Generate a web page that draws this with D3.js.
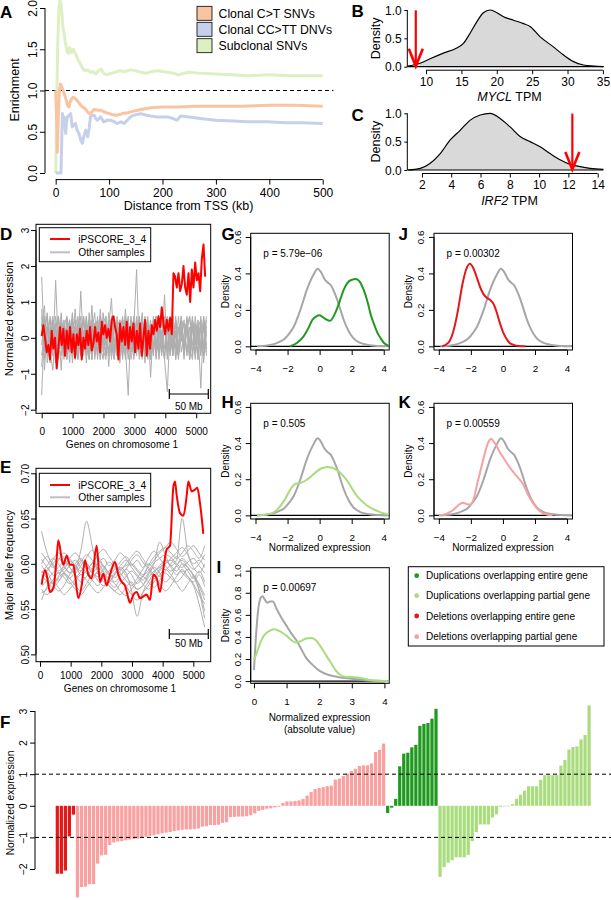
<!DOCTYPE html>
<html><head><meta charset="utf-8">
<script src="https://cdn.jsdelivr.net/npm/d3@7"></script>
<style>body{margin:0;background:#fff}svg{display:block}text{font-family:'Liberation Sans',Arial,Helvetica,sans-serif}</style>
</head><body><svg id="c" width="611" height="900"></svg>
<script>
// ---------- DATA ----------
// Panel A
const aLegend = ["Clonal C>T SNVs","Clonal CC>TT DNVs","Subclonal SNVs"];
const aXTicks = [0,100,200,300,400,500];
const aYTicks = [0,0.5,1,1.5,2];
const aOrangeKb = [0,2,3,5,7,9,11,14,17,20,22,25,27,30,33,37,40,45,50,55,60,63,68,72,80,85,95,105,115,125,135,146,160,178,200,230,260,300,350,400,450,500];
const aOrangeVal = [1.0,0.6,0.25,0.7,1.0,1.08,1.05,1.0,0.94,0.88,0.82,0.8,0.86,0.9,0.92,0.9,0.88,0.84,0.8,0.78,0.74,0.72,0.74,0.77,0.76,0.76,0.73,0.71,0.7,0.72,0.73,0.75,0.77,0.79,0.8,0.8,0.81,0.81,0.81,0.82,0.82,0.81];
const aBlueKb = [0,10,11,12.5,14,15.6,17,18.7,20,21.8,25,28,31,34,37,40,43.6,47,50,53,56,58,60,63,65,68,72,75,78,84,90,97,103,110,115,122,128,134,140,146,159,170,178,190,209,220,227,234,250,271,300,333,360,396,430,460,500];
const aBlueVal = [0,0,0.3,0.72,0.65,0.68,0.6,0.48,0.6,0.68,0.7,0.72,0.56,0.58,0.6,0.52,0.48,0.4,0.36,0.45,0.52,0.48,0.44,0.55,0.68,0.7,0.7,0.66,0.64,0.68,0.62,0.64,0.64,0.62,0.6,0.62,0.6,0.64,0.68,0.7,0.72,0.7,0.69,0.68,0.68,0.66,0.64,0.69,0.68,0.66,0.64,0.63,0.62,0.62,0.61,0.61,0.6];
const aGreenKb = [0,2,4,6,8,10,12,14,16,18,20,22,24,26,28,30,33,36,39,42,45,48,51,55,60,65,70,75,80,85,90,95,100,110,120,130,140,150,160,170,180,190,200,210,220,230,240,250,270,300,330,360,400,440,470,500];
const aGreenVal = [0,0.9,1.6,2.0,2.1,2.05,1.9,1.75,1.68,1.58,1.52,1.46,1.45,1.52,1.5,1.46,1.5,1.46,1.42,1.37,1.34,1.3,1.26,1.24,1.25,1.22,1.23,1.2,1.24,1.26,1.21,1.19,1.2,1.22,1.24,1.23,1.25,1.24,1.22,1.21,1.23,1.24,1.23,1.22,1.21,1.19,1.21,1.22,1.21,1.2,1.19,1.18,1.19,1.18,1.18,1.18];

// Panel B (MYCL) and C (IRF2)
const bTpm = [7.36,9.15,10.57,12.45,14.34,15.28,16.23,17.17,18.1,19.06,19.76,20.94,22.36,23.77,24.7,26.1,28.0,29.4,30.85,32.26,33.7,35.1];
const bDens = [0.01,0.06,0.14,0.24,0.33,0.41,0.59,0.79,0.95,1.0,0.97,0.88,0.82,0.76,0.71,0.53,0.35,0.21,0.09,0.03,0.01,0.0];
const bXTicks = [10,15,20,25,30,35];
const bArrow = 8.55;
const cTpm = [1.02,1.89,2.57,3.25,3.93,4.61,5.3,5.98,6.66,7.34,8.02,8.7,9.39,10.07,10.75,11.43,12.11,12.8,13.48,14.39];
const cDens = [0.0,0.03,0.12,0.29,0.53,0.7,0.88,0.97,1.0,0.91,0.76,0.59,0.5,0.41,0.29,0.18,0.1,0.06,0.03,0.01];
const cXTicks = [2,4,6,8,10,12,14];
const cArrow = 12.27;
const densTicks = [0,0.5,1];

// Panel D
const dXTicks = [0,1000,2000,3000,4000,5000];
const dYTicks = [-2,-1,0,1,2,3];
const dRed = [0.05,0.35,0.0,-0.4,-0.2,-0.6,0.2,-0.3,0.0,-0.85,-0.3,0.3,-0.2,0.25,-0.5,0.2,-0.3,0.3,-0.4,0.1,-0.55,0.1,-0.2,0.25,-0.6,0.0,-0.3,0.2,-0.2,0.3,-0.35,-0.15,0.3,-0.1,0.15,-0.4,0.45,0.1,0.35,0.0,0.25,-0.1,0.5,0.6,0.3,0.1,-0.6,0.4,-0.1,0.3,-0.2,0.45,-0.3,0.3,-0.1,0.4,-0.4,0.2,-0.3,0.4,-0.5,0.0,0.5,-0.5,0.2,-0.3,0.35,0.1,0.5,0.2,0.6,0.3,0.85,0.4,0.1,0.5,0.2,0.55,0.1,1.8,1.7,1.4,1.8,1.3,1.5,2.0,1.4,1.2,1.8,1.0,1.9,1.4,2.1,1.6,1.8,1.3,2.2,2.6,1.7];
const dGrey1 = [1.7,-0.3,0.5,-0.6,0.4,0.2,-0.5,0.6,-0.2,0.3,-0.7,0.5,0.1,-0.4,1.3,-0.3,0.4,-0.6,0.2,0.7,-0.5,0.3,-0.2,0.6,-0.8,0.4,0.0,-0.5,0.5,-0.3,0.8,-0.4,0.2,-0.6,0.5,-0.1,0.3,-0.7,0.4,0.1,-0.5,0.6,-0.3,0.2,-0.6,-1.5,0.4,-0.2,0.5,-0.4,0.3,-0.6,0.6,-0.2,0.4,-0.5,0.2,-1.4,0.5,0.3];
const dGrey2 = [-1.6,0.4,-0.2,0.6,-0.5,1.6,-0.3,0.2,-0.6,0.5,-0.1,0.7,-0.4,0.3,-0.2,0.5,-0.7,0.4,0.1,-0.3,0.6,-0.5,0.2,-0.4,0.3,1.1,-0.6,0.4,-0.2,0.5,-0.5,0.3,-0.1,0.6,-0.4,0.2,-0.3,0.5,-0.6,0.4,-0.2,0.3,-0.5,0.7,-0.3,0.2,-0.4,0.6,-0.6,0.3,-0.1,0.5,-0.4,0.3,-0.5,0.6,-0.2,0.4,-0.3,0.1];
const dGrey3 = [0.3,0.9,-0.7,0.2,0.6,-0.4,0.3,-0.9,0.4,-0.3,0.5,-0.2,0.8,-0.5,0.2,-0.4,0.6,-0.3,0.9,-0.6,0.1,-0.5,0.7,-0.2,0.4,-0.6,0.3,-0.4,0.2,0.6,-0.3,-1.6,0.5,-0.2,0.4,-0.6,0.7,-0.3,0.1,-0.4,0.5,-0.5,0.4,-0.1,0.6,-0.3,0.2,-0.5,0.4,-0.2,0.6,-0.4,0.3,-0.6,0.5,-0.1,0.4,-0.5,0.6,-0.3];
const dGrey4 = [-0.5,0.2,0.7,-0.4,-0.9,0.3,0.6,-0.3,0.2,-0.6,0.4,-0.5,0.3,0.6,-0.4,0.2,-0.3,0.5,-0.6,0.4,-0.2,0.8,-0.4,0.2,-0.5,0.6,-0.3,0.4,-0.7,0.3,-0.2,0.5,-0.4,0.3,1.9,-0.5,0.2,-0.4,0.6,-1.1,0.3,-0.2,0.5,-0.4,1.2,-0.6,0.3,-0.2,0.5,-0.5,0.4,-0.3,0.2,0.6,-0.4,0.3,-0.6,0.5,-0.2,0.6];
const dGrey5 = [0.8,-0.9,0.3,-0.2,0.5,-0.7,0.2,0.4,-0.5,0.3,-0.2,0.6,-0.6,0.4,-0.3,0.2,-0.5,0.7,-0.2,0.4,-0.6,0.3,0.1,-0.5,0.5,-0.3,0.6,-0.2,0.3,-0.5,0.4,-0.3,0.6,-0.5,0.2,-0.4,0.5,-0.2,0.3,-0.6,0.4,-0.3,0.2,-0.5,0.3,-0.2,0.6,-0.4,0.2,-0.5,0.3,-0.3,0.5,-0.2,0.3,-0.6,0.4,-0.2,0.3,-0.4];
const dGrey6 = [0.1,0.5,-0.4,0.3,-0.1,0.4,-0.6,0.2,0.5,-0.4,0.3,-0.5,0.4,-0.2,0.6,-0.4,0.2,-0.3,0.4,-0.5,0.3,-0.6,0.5,-0.2,0.3,-0.4,0.6,-0.5,0.2,-0.3,0.5,-0.2,0.4,-0.3,0.6,-0.2,0.3,-0.5,0.4,-0.6,0.3,-0.2,0.4,-0.3,0.5,-0.4,0.3,-0.5,0.6,-0.3,0.2,-0.4,0.5,-0.6,0.3,-0.2,0.5,-0.3,0.4,-0.5];
const dGrey7 = [0.4,-0.6,0.2,0.5,-0.3,0.6,-0.2,-0.5,0.3,0.6,-0.4,0.2,-0.6,0.5,0.1,-0.5,0.4,0.2,-0.6,0.3,0.5,-0.2,-0.6,0.4,0.2,-0.5,0.6,-0.1,-0.4,0.5,0.2,-0.6,0.3,0.5,-0.4,0.1,0.6,-0.3,-0.5,0.4,0.2,-0.6,0.5,-0.2,0.3,0.6,-0.5,0.2,-0.3,0.6,-0.4,0.1,0.5,-0.3,-0.6,0.4,0.2,-0.4,0.6,-0.2];
const dGrey8 = [-0.2,0.6,-0.5,0.1,0.4,-0.6,0.5,0.0,-0.4,0.6,-0.2,0.3,0.5,-0.6,0.2,0.6,-0.4,0.0,0.5,-0.5,0.3,0.6,-0.3,-0.6,0.5,0.2,-0.4,0.6,-0.5,0.1,-0.6,0.5,-0.2,0.3,-0.5,0.6,-0.4,0.2,0.5,-0.6,0.3,0.6,-0.4,0.0,-0.6,0.5,-0.2,0.4,-0.6,0.2,0.5,-0.5,0.3,0.6,-0.2,0.4,-0.6,0.3,-0.4,0.5];
const dGrey9 = [0.6,-0.4,0.3,-0.7,0.5,0.0,-0.4,0.7,-0.5,0.2,0.5,-0.7,0.3,0.0,-0.5,0.6,-0.2,-0.6,0.5,0.2,-0.4,0.6,0.0,-0.5,0.7,-0.2,-0.6,0.3,0.5,-0.4,0.2,0.6,-0.6,0.0,0.5,-0.3,-0.5,0.6,0.1,-0.4,0.6,-0.5,0.0,0.5,-0.6,0.4,0.6,-0.4,0.1,-0.6,0.5,0.3,-0.5,0.0,0.6,-0.4,0.3,0.5,-0.7,0.2];
const dGrey10 = [-0.8,0.3,0.6,-0.3,0.2,-0.5,0.6,-0.1,0.4,-0.6,0.1,0.5,-0.3,-0.6,0.4,0.0,0.6,-0.5,0.3,-0.2,0.5,-0.6,0.4,0.6,-0.4,0.1,-0.5,0.5,0.0,-0.6,0.6,-0.3,0.4,-0.5,0.0,0.6,-0.6,0.3,-0.1,0.5,-0.4,0.6,-0.6,0.2,0.4,-0.5,0.0,0.6,-0.3,-0.5,0.6,-0.2,0.4,-0.6,0.5,0.0,-0.4,0.6,-0.5,0.3];

// Panel E
const eYTicks = [0.50,0.55,0.60,0.65,0.70];
const eRedGene = [54,163,217,326,435,544,598,707,761,870,978,1087,1142,1250,1359,1468,1576,1685,1848,1957,2066,2174,2283,2446,2555,2664,2772,2881,2935,3044,3153,3262,3370,3479,3588,3696,3805,3914,4022,4131,4240,4349,4403,4457,4566,4675,4783,4838,4946,5055,5131,5218,5327];
const eRedVal = [0.577,0.593,0.588,0.569,0.573,0.606,0.626,0.606,0.599,0.609,0.599,0.599,0.588,0.562,0.576,0.604,0.588,0.584,0.620,0.580,0.589,0.576,0.588,0.602,0.588,0.580,0.576,0.562,0.557,0.566,0.569,0.562,0.564,0.566,0.560,0.588,0.584,0.569,0.594,0.616,0.620,0.685,0.691,0.676,0.656,0.653,0.675,0.691,0.680,0.682,0.684,0.667,0.633];
const eGrey1 = [0.636,0.612,0.598,0.590,0.594,0.603,0.598,0.588,0.592,0.601,0.607,0.598,0.590,0.585,0.592,0.598,0.600,0.594,0.588,0.592,0.601,0.606,0.610,0.607,0.600,0.596,0.602,0.606,0.598,0.590];
const eGrey2 = [0.560,0.575,0.582,0.590,0.585,0.578,0.583,0.592,0.598,0.590,0.582,0.576,0.580,0.588,0.594,0.587,0.578,0.572,0.576,0.585,0.592,0.596,0.600,0.604,0.598,0.590,0.584,0.576,0.556,0.530];
const eGrey3 = [0.598,0.592,0.604,0.612,0.606,0.596,0.590,0.598,0.607,0.615,0.606,0.596,0.588,0.594,0.602,0.608,0.600,0.592,0.586,0.598,0.608,0.614,0.618,0.612,0.606,0.612,0.620,0.614,0.606,0.620];
const eGrey4 = [0.582,0.590,0.578,0.570,0.576,0.588,0.594,0.615,0.647,0.620,0.590,0.580,0.576,0.570,0.566,0.574,0.580,0.572,0.576,0.588,0.596,0.590,0.580,0.586,0.598,0.604,0.596,0.588,0.578,0.565];
const eGrey5 = [0.590,0.598,0.606,0.600,0.590,0.584,0.592,0.602,0.610,0.604,0.594,0.586,0.580,0.588,0.596,0.590,0.570,0.542,0.568,0.580,0.590,0.598,0.604,0.598,0.592,0.600,0.596,0.586,0.570,0.540];
const eGrey6 = [0.575,0.582,0.590,0.596,0.602,0.596,0.588,0.580,0.586,0.594,0.600,0.592,0.584,0.590,0.598,0.604,0.596,0.588,0.582,0.590,0.600,0.624,0.610,0.598,0.604,0.650,0.612,0.596,0.590,0.600];
const eGrey7 = [0.605,0.596,0.588,0.582,0.590,0.598,0.604,0.596,0.590,0.582,0.576,0.584,0.592,0.598,0.590,0.582,0.576,0.584,0.594,0.600,0.594,0.586,0.592,0.600,0.608,0.600,0.592,0.584,0.592,0.580];
const eGrey8 = [0.588,0.580,0.574,0.580,0.588,0.580,0.572,0.566,0.574,0.582,0.590,0.584,0.576,0.570,0.578,0.586,0.592,0.586,0.578,0.572,0.580,0.588,0.594,0.588,0.580,0.586,0.594,0.588,0.576,0.560];
const eGrey9 = [0.600,0.608,0.600,0.592,0.598,0.606,0.612,0.604,0.596,0.600,0.610,0.616,0.608,0.600,0.594,0.600,0.608,0.614,0.606,0.598,0.604,0.612,0.618,0.624,0.616,0.608,0.614,0.620,0.612,0.604];
const eGrey10 = [0.568,0.572,0.580,0.574,0.566,0.572,0.580,0.588,0.582,0.574,0.568,0.574,0.582,0.578,0.570,0.565,0.572,0.580,0.586,0.580,0.574,0.582,0.590,0.584,0.578,0.570,0.578,0.586,0.572,0.548];
const eGrey11 = [0.585,0.594,0.600,0.606,0.598,0.590,0.596,0.604,0.598,0.590,0.586,0.594,0.602,0.596,0.588,0.594,0.604,0.610,0.602,0.594,0.586,0.592,0.600,0.606,0.612,0.618,0.610,0.600,0.604,0.596];
const eGrey12 = [0.572,0.566,0.574,0.584,0.590,0.584,0.576,0.570,0.578,0.588,0.596,0.590,0.580,0.574,0.582,0.576,0.566,0.560,0.568,0.576,0.584,0.578,0.570,0.576,0.586,0.592,0.586,0.578,0.566,0.556];
const eGrey13 = [0.612,0.604,0.596,0.604,0.612,0.606,0.598,0.592,0.600,0.594,0.600,0.606,0.598,0.604,0.612,0.606,0.598,0.604,0.596,0.606,0.614,0.606,0.598,0.592,0.598,0.606,0.600,0.594,0.600,0.610];
const eGrey14 = [0.592,0.584,0.578,0.586,0.596,0.590,0.600,0.606,0.594,0.586,0.592,0.598,0.588,0.580,0.586,0.594,0.588,0.578,0.586,0.596,0.588,0.594,0.604,0.596,0.588,0.594,0.586,0.580,0.588,0.575];

// Panels G-K densities
const normTicks = [-4,-2,0,2,4];
const densTicksGK = [0,0.2,0.4,0.6];
const greyX = [-3.9,-3.0,-2.5,-2.2,-1.9,-1.6,-1.2,-0.8,-0.4,-0.12,0.1,0.3,0.5,0.7,0.9,1.1,1.3,1.5,1.8,2.1,2.5,3.0,3.6,4.3];
const greyY = [0.0,0.009,0.025,0.04,0.07,0.11,0.2,0.31,0.39,0.426,0.405,0.37,0.35,0.335,0.3,0.255,0.2,0.146,0.085,0.045,0.02,0.008,0.002,0.0];
const gX = [-1.85,-1.4,-1.0,-0.7,-0.45,-0.2,0.0,0.2,0.4,0.65,0.9,1.1,1.3,1.5,1.75,2.0,2.25,2.5,2.75,3.0,3.2,3.4,3.6,3.8,4.0,4.3];
const gY = [0.0,0.02,0.055,0.1,0.146,0.165,0.17,0.16,0.148,0.14,0.17,0.21,0.26,0.31,0.35,0.365,0.37,0.355,0.31,0.24,0.17,0.12,0.075,0.045,0.02,0.003];
const jX = [-3.8,-3.4,-3.1,-2.8,-2.55,-2.3,-2.06,-1.85,-1.6,-1.4,-1.2,-1.0,-0.8,-0.6,-0.4,-0.2,0.0,0.2,0.4,0.7,1.0,1.4];
const jY = [0.0,0.02,0.08,0.2,0.33,0.42,0.453,0.43,0.37,0.32,0.285,0.265,0.255,0.235,0.19,0.13,0.08,0.045,0.02,0.007,0.002,0.0];
const hX = [-3.9,-3.3,-2.8,-2.2,-1.8,-1.5,-1.2,-0.8,-0.35,0.06,0.5,1.1,1.7,2.3,2.95,3.6,4.3];
const hY = [0.0,0.005,0.02,0.083,0.147,0.175,0.179,0.197,0.23,0.258,0.267,0.249,0.194,0.11,0.055,0.024,0.004];
const kX = [-4.0,-3.5,-3.1,-2.8,-2.5,-2.25,-2.0,-1.8,-1.65,-1.45,-1.24,-1.05,-0.85,-0.72,-0.55,-0.4,-0.2,0.0,0.41,0.82,1.24,1.65,2.06,2.47,3.1];
const kY = [0.0,0.01,0.03,0.055,0.07,0.062,0.06,0.1,0.157,0.23,0.304,0.37,0.415,0.424,0.405,0.385,0.35,0.323,0.267,0.221,0.175,0.1,0.046,0.013,0.0];
const iTicksX = [0,1,2,3,4];
const iTicksY = [0,0.2,0.4,0.6,0.8,1.0];
const iGreyX = [0.0,0.05,0.12,0.2,0.26,0.33,0.4,0.5,0.58,0.7,0.85,1.0,1.15,1.3,1.45,1.6,1.75,2.0,2.3,2.6,3.0,3.4,3.8,4.15];
const iGreyY = [0.1,0.35,0.62,0.75,0.768,0.74,0.71,0.72,0.72,0.65,0.57,0.5,0.43,0.37,0.29,0.21,0.16,0.095,0.055,0.035,0.022,0.008,0.002,0.0];
const iGreenX = [0.0,0.1,0.2,0.3,0.45,0.62,0.8,1.0,1.15,1.28,1.42,1.6,1.75,1.9,2.05,2.2,2.35,2.5,2.65,2.8,3.0,3.25,3.5,3.8,4.1];
const iGreenY = [0.19,0.27,0.35,0.41,0.45,0.47,0.45,0.41,0.37,0.35,0.36,0.385,0.39,0.37,0.31,0.24,0.17,0.1,0.055,0.04,0.036,0.03,0.012,0.003,0.0];
const pVals = {G:"p = 5.79e\u221206", J:"p = 0.00302", H:"p = 0.505", K:"p = 0.00559", I:"p = 0.00697"};
const cnvLegend = ["Duplications overlapping entire gene","Duplications overlapping partial gene","Deletions overlapping entire gene","Deletions overlapping partial gene"];

// Panel F
const fDelEntire = [-2.15,-2.15,-2.05,-0.97,-0.28];
const fDelPartial = [-2.9,-2.57,-2.56,-2.48,-2.48,-1.83,-1.57,-1.55,-1.24,-1.16,-1.13,-1.12,-1.09,-1.07,-1.05,-1.04,-1.02,-0.98,-0.95,-0.93,-0.90,-0.87,-0.85,-0.83,-0.80,-0.78,-0.76,-0.75,-0.75,-0.74,-0.72,-0.66,-0.65,-0.61,-0.61,-0.60,-0.54,-0.52,-0.36,-0.35,-0.34,-0.34,-0.33,-0.30,-0.24,-0.16,-0.13,-0.09,-0.08,-0.05,-0.03,0.09,0.14,0.14,0.15,0.17,0.22,0.32,0.44,0.53,0.56,0.59,0.62,0.64,0.83,0.86,0.94,1.02,1.10,1.17,1.26,1.28,1.28,1.34,1.70,1.77,1.97];
const fDupEntire = [-0.23,-0.06,0.22,1.25,1.65,1.68,1.85,1.93,2.53,2.59,2.62,2.76,3.07];
const fDupPartial = [-2.25,-1.94,-1.8,-1.72,-1.63,-1.63,-1.63,-1.55,-1.12,-0.83,-0.59,-0.59,-0.59,-0.37,-0.27,-0.03,-0.02,-0.02,0.05,0.22,0.35,0.48,0.62,0.62,0.62,0.82,0.97,0.97,0.97,0.97,1.27,1.45,1.78,1.86,1.88,2.1,2.24,3.18];
const fYTicks = [-2,-1,0,1,2,3];

// Colours
const C = {orange:"#F9C4A2", blue:"#C6D0EA", green:"#DDF0C4", red:"#FF0000", grey:"#AEAEAE",
  dupE:"#1F9A1F", dupP:"#A9DC7C", delE:"#E31818", delP:"#F9A0A0", densGrey:"#A6A6A6"};

// ---------- HELPERS ----------
const svg = d3.select('#c');
svg.append('rect').attr('width',611).attr('height',900).attr('fill','#fff');

function T(g, s, x, y, o={}) {
  const t = g.append('text').attr('x',x).attr('y',y).text(s)
    .attr('font-size',o.size||10).attr('text-anchor',o.anchor||'start').attr('fill',o.fill||'#000');
  if (o.weight) t.attr('font-weight',o.weight);
  if (o.rot) t.attr('transform',`rotate(-90,${x},${y})`);
  return t;
}
function axL(g, scale, x, ticks, fmt, off, size, rotate, tick=5) {
  const a = g.append('g').attr('transform',`translate(${x},0)`)
    .call(d3.axisLeft(scale).tickValues(ticks).tickFormat(fmt).tickSize(tick).tickSizeOuter(0));
  a.attr('font-family',null).attr('font-size',null);
  a.select('.domain').remove();
  a.append('line').attr('y1',scale(ticks[0])).attr('y2',scale(ticks[ticks.length-1])).attr('stroke','#000');
  a.selectAll('.tick line').attr('stroke','#000');
  const tx = a.selectAll('.tick text').attr('font-size',size).attr('fill','#000');
  if (rotate) tx.attr('x',0).attr('y',-off).attr('dy',null).attr('text-anchor','middle').attr('transform','rotate(-90)');
  else tx.attr('x',-off).attr('dy','0.35em');
}
function axB(g, scale, y, ticks, fmt, off, size, tick=5) {
  const a = g.append('g').attr('transform',`translate(0,${y})`)
    .call(d3.axisBottom(scale).tickValues(ticks).tickFormat(fmt).tickSize(tick).tickSizeOuter(0));
  a.attr('font-family',null).attr('font-size',null);
  a.select('.domain').remove();
  a.append('line').attr('x1',scale(ticks[0])).attr('x2',scale(ticks[ticks.length-1])).attr('stroke','#000');
  a.selectAll('.tick line').attr('stroke','#000');
  a.selectAll('.tick text').attr('font-size',size).attr('y',off).attr('dy',null).attr('fill','#000');
}
function line(g, xs, ys, xsc, ysc, color, w, curve) {
  g.append('path').datum(d3.zip(xs, ys))
    .attr('d', d3.line().x(d=>xsc(d[0])).y(d=>ysc(d[1])).curve(curve||d3.curveLinear))
    .attr('fill','none').attr('stroke',color).attr('stroke-width',w).attr('stroke-linejoin','round');
}
const letter = (s,x,y)=>T(svg,s,x,y,{size:17,weight:'bold'});

// ---------- PANEL A ----------
{
  const g = svg.append('g');
  const x = d3.scaleLinear([-20,520],[45,333.4]);
  const y = d3.scaleLinear([-0.08,2.08],[179.6,1.4]);
  g.append('line').attr('x1',45).attr('x2',333.4).attr('y1',y(1)).attr('y2',y(1))
    .attr('stroke','#000').attr('stroke-dasharray','4,3');
  line(g, aGreenKb, aGreenVal, x, y, C.green, 3);
  line(g, aBlueKb, aBlueVal, x, y, C.blue, 3);
  line(g, aOrangeKb, aOrangeVal, x, y, C.orange, 3);
  axL(g, y, 45, aYTicks, d3.format('.1f'), 8.5, 12, true);
  axB(g, x, 179.6, aXTicks, d3.format('d'), 17.5, 12);
  T(g,'Distance from TSS (kb)',188.5,209.5,{size:12.5,anchor:'middle'});
  T(g,'Enrichment',19,90,{size:12.5,anchor:'middle',rot:true});
  const cols=[C.orange,C.blue,C.green], ys=[13.3,29.3,45.7];
  aLegend.forEach((s,i)=>{
    g.append('rect').attr('x',197).attr('y',ys[i]-7).attr('width',15).attr('height',14)
      .attr('fill',cols[i]).attr('stroke','#000').attr('stroke-width',0.8);
    T(g,s,218.5,ys[i]+4.5,{size:12.3});
  });
  letter('A',0,17.5);
}

// ---------- PANELS B, C ----------
function densPanel(tpm, dens, x0, x1, yTop, yBot, ticks, arrowAt, labelIt, labelRest, labelY) {
  const g = svg.append('g');
  const x = d3.scaleLinear([x0,x1],[407.3, x1===35.2?604.3:605]);
  const y = d3.scaleLinear([0,1],[yBot,yTop]);
  const pts = d3.zip(tpm,dens);
  g.append('path').datum(pts)
    .attr('d', d3.area().x(d=>x(d[0])).y0(y(0)).y1(d=>y(d[1])).curve(d3.curveMonotoneX))
    .attr('fill','#D9D9D9').attr('stroke','none');
  g.append('path').datum(pts)
    .attr('d', d3.line().x(d=>x(d[0])).y(d=>y(d[1])).curve(d3.curveMonotoneX))
    .attr('fill','none').attr('stroke','#000').attr('stroke-width',1.2);
  g.append('line').attr('x1',x(tpm[0])).attr('x2',x(tpm[tpm.length-1])).attr('y1',y(0)).attr('y2',y(0)).attr('stroke','#000').attr('stroke-width',1.2);
  axL(g, y, 407.3, densTicks, d3.format('.1f'), 5.5, 12, false, 3);
  axB(g, x, yBot+3.5, ticks, d3.format('d'), 15.5, 12, 4);
  const t = g.append('text').attr('x',509.5).attr('y',labelY).attr('font-size',12.5).attr('text-anchor','middle');
  t.append('tspan').attr('font-style','italic').text(labelIt);
  t.append('tspan').text(labelRest);
  T(g,'Density',380,(yTop+yBot)/2,{size:12.5,anchor:'middle',rot:true});
  const ax = x(arrowAt);
  g.append('line').attr('x1',ax).attr('x2',ax).attr('y1',yTop+0.3).attr('y2',yBot-1).attr('stroke',C.red).attr('stroke-width',2.2);
  g.append('path').attr('d',`M${ax-7},${yBot-18} L${ax},${yBot-0.5} L${ax+7},${yBot-18}`)
    .attr('fill','none').attr('stroke',C.red).attr('stroke-width',2.6).attr('stroke-linejoin','miter');
}
densPanel(bTpm,bDens,7.35,35.2,10,66.7,bXTicks,bArrow,'MYCL',' TPM',100.5);
densPanel(cTpm,cDens,1.0,14.5,113.3,170,cXTicks,cArrow,'IRF2',' TPM',205);
letter('B',351.5,17);
letter('C',351.5,120.5);

// ---------- PANEL D ----------
{
  const g = svg.append('g');
  const x = d3.scaleLinear([-184,5469],[36,210.7]);
  const y = d3.scaleLinear([-2.1,3.16],[413.3,224.3]);
  [dGrey1,dGrey2,dGrey3,dGrey4,dGrey5,dGrey6,dGrey7,dGrey8,dGrey9,dGrey10].forEach(s=>{
    const xs = s.map((v,i)=>i*5330/(s.length-1));
    line(g, xs, s, x, y, C.grey, 1);
  });
  line(g, dRed.map((v,i)=>i*5290/(dRed.length-1)), dRed, x, y, C.red, 2);
  g.append('rect').attr('x',36).attr('y',224.3).attr('width',174.7).attr('height',189).attr('fill','none').attr('stroke','#000');
  axL(g, y, 36, dYTicks, d3.format('d'), 7.5, 10, true);
  axB(g, x, 413.3, dXTicks, d3.format('d'), 21.5, 10);
  T(g,'Genes on chromosome 1',122,447.5,{size:10,anchor:'middle'});
  T(g,'Normalized expression',13,318.8,{size:11.3,anchor:'middle',rot:true});
  g.append('rect').attr('x',39.3).attr('y',227.7).attr('width',111.4).attr('height',34).attr('fill','#fff').attr('stroke','#000');
  g.append('line').attr('x1',50).attr('x2',70).attr('y1',239).attr('y2',239).attr('stroke',C.red).attr('stroke-width',2);
  g.append('line').attr('x1',50).attr('x2',70).attr('y1',252.3).attr('y2',252.3).attr('stroke','#BEBEBE').attr('stroke-width',2);
  T(g,'iPSCORE_3_4',78.3,242.7,{size:10.2});
  T(g,'Other samples',78.3,256,{size:10.2});
  g.append('path').attr('d','M169.3,394 L208.3,394 M169.3,389 L169.3,399 M208.3,389 L208.3,399').attr('stroke','#000').attr('stroke-width',1.2);
  T(g,'50 Mb',188.8,410,{size:10,anchor:'middle'});
  letter('D',0,240);
}

// ---------- PANEL E ----------
{
  const g = svg.append('g');
  const x = d3.scaleLinear([-130,5567],[36,210.7]);
  const y = d3.scaleLinear([0.4919,0.7055],[661.7,468.3]);
  [eGrey1,eGrey2,eGrey3,eGrey4,eGrey5,eGrey6,eGrey7,eGrey8,eGrey9,eGrey10,eGrey11,eGrey12,eGrey13,eGrey14].forEach(s=>{
    const xs = s.map((v,i)=>50+i*5320/(s.length-1));
    line(g, xs, s, x, y, C.grey, 1, d3.curveMonotoneX);
  });
  line(g, eRedGene, eRedVal, x, y, C.red, 2, d3.curveMonotoneX);
  g.append('rect').attr('x',36).attr('y',468.3).attr('width',174.7).attr('height',193.4).attr('fill','none').attr('stroke','#000');
  axL(g, y, 36, eYTicks, d3.format('.2f'), 7.5, 10, true);
  axB(g, x, 661.7, dXTicks, d3.format('d'), 17.5, 10);
  T(g,'Genes on chromosome 1',120,692,{size:10,anchor:'middle'});
  T(g,'Major allele frequency',13,565,{size:11.3,anchor:'middle',rot:true});
  g.append('rect').attr('x',39.3).attr('y',473.3).attr('width',111.4).attr('height',33.4).attr('fill','#fff').attr('stroke','#000');
  g.append('line').attr('x1',50).attr('x2',70).attr('y1',485).attr('y2',485).attr('stroke',C.red).attr('stroke-width',2);
  g.append('line').attr('x1',50).attr('x2',70).attr('y1',497.3).attr('y2',497.3).attr('stroke','#BEBEBE').attr('stroke-width',2);
  T(g,'iPSCORE_3_4',78.3,488.7,{size:10.2});
  T(g,'Other samples',78.3,501,{size:10.2});
  g.append('path').attr('d','M169.3,634 L208.3,634 M169.3,629 L169.3,639 M208.3,629 L208.3,639').attr('stroke','#000').attr('stroke-width',1.2);
  T(g,'50 Mb',188.8,647,{size:10,anchor:'middle'});
  letter('E',0,473.3);
}

// ---------- PANELS G, H, J, K ----------
function smallPanel(left, top, bottom, colX, colY, color, pText, xlabel) {
  const g = svg.append('g');
  const x = d3.scaleLinear([-4.3,4.34],[left,left+138.5]);
  const y = d3.scaleLinear([-0.02,0.62],[bottom,top]);
  g.append('rect').attr('x',left).attr('y',top).attr('width',138.5).attr('height',bottom-top).attr('fill','none').attr('stroke','#000');
  g.append('line').attr('x1',left).attr('x2',left+138.5).attr('y1',y(0)).attr('y2',y(0)).attr('stroke','#000').attr('stroke-width',1.2);
  line(g, greyX, greyY, x, y, C.densGrey, 2, d3.curveMonotoneX);
  line(g, colX, colY, x, y, color, 2, d3.curveMonotoneX);
  axL(g, y, left, densTicksGK, d3.format('.1f'), 10, 9.8, true);
  axB(g, x, bottom, normTicks, d3.format('d'), 21.5, 9.8);
  T(g,pText,left+12.6,top+23.5,{size:10});
  T(g,'Density',left-22,(top+bottom)/2,{size:10,anchor:'middle',rot:true});
  if (xlabel) T(g,'Normalized expression',left+69,bottom+31.5,{size:10,anchor:'middle'});
}
smallPanel(250.7,233.3,350,gX,gY,C.dupE,pVals.G,false);
smallPanel(434,233.3,350,jX,jY,C.delE,pVals.J,false);
smallPanel(250.7,403.3,519,hX,hY,C.dupP,pVals.H,true);
smallPanel(434,403.3,519,kX,kY,C.delP,pVals.K,true);
letter('G',221.5,240); letter('J',398.5,240);
letter('H',221.5,408.3); letter('K',398.5,408.3);

// ---------- PANEL I ----------
{
  const g = svg.append('g');
  const x = d3.scaleLinear([-0.1,4.15],[250.7,389.3]);
  const y = d3.scaleLinear([-0.02,1.027],[683.3,567.7]);
  g.append('rect').attr('x',250.7).attr('y',567.7).attr('width',138.6).attr('height',115.6).attr('fill','none').attr('stroke','#000');
  g.append('line').attr('x1',250.7).attr('x2',389.3).attr('y1',y(0)).attr('y2',y(0)).attr('stroke','#000').attr('stroke-width',1.2);
  line(g, iGreyX, iGreyY, x, y, C.densGrey, 2, d3.curveMonotoneX);
  line(g, iGreenX, iGreenY, x, y, C.dupP, 2, d3.curveMonotoneX);
  axL(g, y, 250.7, iTicksY, d3.format('.1f'), 10, 9.8, true);
  axB(g, x, 683.3, iTicksX, d3.format('d'), 22, 9.8);
  T(g,pVals.I,263.3,591,{size:10});
  T(g,'Density',228.7,625.5,{size:10,anchor:'middle',rot:true});
  T(g,'Normalized expression',319.5,720.5,{size:10,anchor:'middle'});
  T(g,'(absolute value)',319.5,733,{size:10,anchor:'middle'});
  letter('I',216.5,573);
}

// ---------- CNV legend ----------
{
  const g = svg.append('g');
  g.append('rect').attr('x',408.3).attr('y',566.7).attr('width',195.7).attr('height',79.3).attr('fill','#fff').attr('stroke','#000');
  const cols=[C.dupE,C.dupP,C.delE,C.delP], ys=[575.7,595.7,616,636.7];
  cnvLegend.forEach((s,i)=>{
    g.append('circle').attr('cx',416.7).attr('cy',ys[i]).attr('r',2.4).attr('fill',cols[i]);
    T(g,s,426,ys[i]+3.6,{size:10});
  });
}

// ---------- PANEL F ----------
{
  const g = svg.append('g');
  const bars = [].concat(
    fDelEntire.map(v=>({v,c:C.delE})), fDelPartial.map(v=>({v,c:C.delP})),
    fDupEntire.map(v=>({v,c:C.dupE})), fDupPartial.map(v=>({v,c:C.dupP})));
  const x = d3.scaleBand(d3.range(bars.length),[55.7,590.7]).paddingInner(0.2).paddingOuter(0);
  const y = d3.scaleLinear([-2,3],[869,711]);
  g.selectAll('rect.bar').data(bars).join('rect')
    .attr('x',(d,i)=>x(i)).attr('width',x.bandwidth())
    .attr('y',d=>y(Math.max(0,d.v))).attr('height',d=>Math.abs(y(d.v)-y(0)))
    .attr('fill',d=>d.c);
  [1,-1].forEach(v=>g.append('line').attr('x1',35).attr('x2',611).attr('y1',y(v)).attr('y2',y(v))
    .attr('stroke','#000').attr('stroke-dasharray','4,3'));
  axL(g, y, 35, fYTicks, d3.format('d'), 8.5, 10.5, true);
  T(g,'Normalized expression',13.5,803,{size:10.3,anchor:'middle',rot:true});
  letter('F',0,728);
}
</script></body></html>
